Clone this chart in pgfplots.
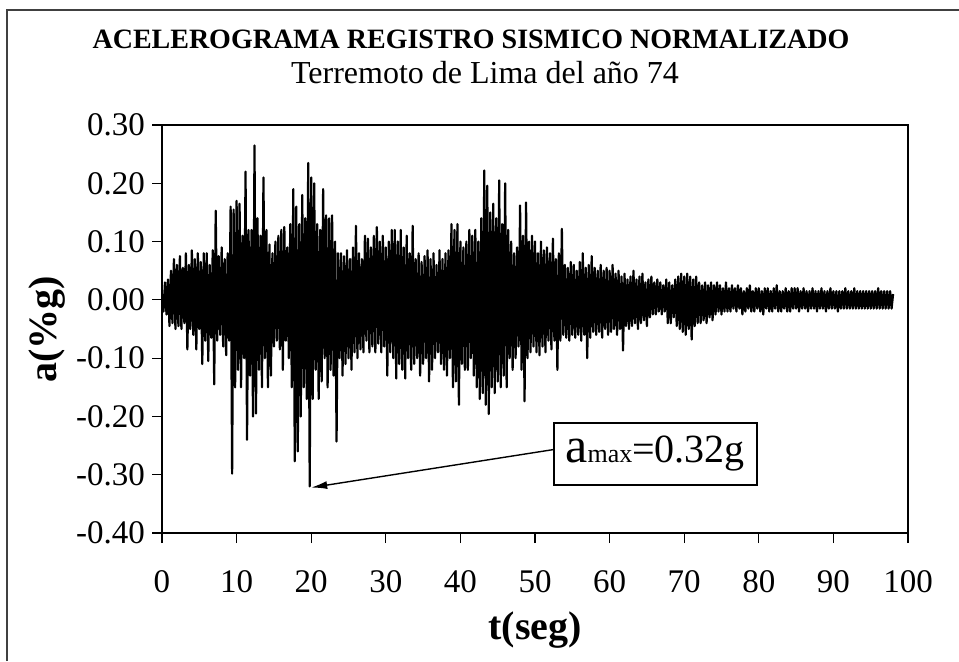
\documentclass[border=0pt]{standalone}
\usepackage{pgfplots}
\pgfplotsset{compat=1.18}
\usepackage{fontspec}
\setmainfont{Liberation Serif}
\usetikzlibrary{arrows.meta}
\begin{document}
\begin{tikzpicture}
\useasboundingbox (0,0) rectangle (479.5pt,330.5pt);
\draw[line width=0.7pt, black!75] (3.5pt,0pt) -- (3.5pt,325.5pt) -- (479.5pt,325.5pt);
\node[font=\fontsize{14}{14}\selectfont\bfseries] at (235.5pt,311pt) {ACELEROGRAMA REGISTRO SISMICO NORMALIZADO};
\node[font=\fontsize{16}{16}\selectfont] at (242.5pt,294pt) {Terremoto de Lima del año 74};
\begin{axis}[
  at={(81pt,64pt)}, anchor=south west,
  width=373pt, height=204pt, scale only axis,
  xmin=0, xmax=100, ymin=-0.4, ymax=0.3,
  xtick={0,10,20,30,40,50,60,70,80,90,100},
  ytick={-0.4,-0.3,-0.2,-0.1,0,0.1,0.2,0.3},
  tick align=outside, major tick length=5pt,
  tick style={line width=0.6pt, black},
  axis line style={line width=1pt},
  xtick pos=bottom, ytick pos=left,
  /pgf/number format/assume math mode=true,
  yticklabel style={/pgf/number format/fixed, /pgf/number format/fixed zerofill, /pgf/number format/precision=2, font=\fontsize{16.5}{16.5}\selectfont},
  xticklabel style={font=\fontsize{16.5}{16.5}\selectfont, yshift=-10pt},
  xlabel={t(seg)}, ylabel={a(\%g)},
  xlabel style={font=\fontsize{20}{20}\selectfont\bfseries, at={(axis description cs:0.5,-0.238)}, anchor=center},
  ylabel style={font=\fontsize{20}{20}\selectfont\bfseries, at={(axis description cs:-0.154,0.5)}, anchor=center},
]
\addplot[black, line width=1.1pt, line join=round] coordinates {
(0,0.01) (0.2,-0.02) (0.4,0.03) (0.6,-0.025) (0.8,0.035)
(1,-0.045) (1.2,0.05) (1.4,-0.04) (1.6,0.07) (1.8,-0.05)
(2,0.06) (2.2,-0.045) (2.4,0.075) (2.6,-0.05) (2.8,0.055)
(3,-0.04) (3.2,0.08) (3.4,-0.085) (3.6,0.06) (3.8,-0.05)
(4,0.085) (4.2,-0.06) (4.4,0.07) (4.6,-0.085) (4.8,0.08)
(5,-0.05) (5.2,0.065) (5.4,-0.11) (5.6,0.08) (5.8,-0.07)
(6,0.08) (6.2,-0.105) (6.4,0.06) (6.6,-0.065) (6.8,0.085)
(7,-0.145) (7.2,0.153) (7.4,-0.07) (7.6,0.075) (7.8,-0.06)
(8,0.09) (8.2,-0.08) (8.4,0.07) (8.6,-0.095) (8.8,0.08)
(9,-0.07) (9.2,0.16) (9.4,-0.298) (9.6,0.155) (9.8,-0.15)
(10,0.17) (10.2,-0.12) (10.4,0.165) (10.6,-0.15) (10.8,0.11)
(11,-0.1) (11.2,0.22) (11.4,-0.24) (11.6,0.12) (11.8,-0.13)
(12,0.12) (12.2,-0.2) (12.4,0.265) (12.6,-0.195) (12.8,0.14)
(13,-0.12) (13.2,0.11) (13.4,-0.15) (13.6,0.21) (13.8,-0.1)
(14,0.12) (14.2,-0.15) (14.4,0.095) (14.6,-0.13) (14.8,0.08)
(15,-0.08) (15.2,0.1) (15.4,-0.07) (15.6,0.11) (15.8,-0.085)
(16,0.12) (16.2,-0.12) (16.4,0.125) (16.6,-0.07) (16.8,0.09)
(17,-0.1) (17.2,0.13) (17.4,-0.15) (17.6,0.19) (17.8,-0.277)
(18,0.16) (18.2,-0.26) (18.4,0.13) (18.6,-0.2) (18.8,0.18)
(19,-0.15) (19.2,0.14) (19.4,-0.17) (19.6,0.235) (19.8,-0.32)
(20,0.21) (20.2,-0.17) (20.4,0.2) (20.6,-0.12) (20.8,0.13)
(21,-0.17) (21.2,0.12) (21.4,-0.14) (21.6,0.19) (21.8,-0.1)
(22,0.145) (22.2,-0.15) (22.4,0.14) (22.6,-0.12) (22.8,0.145)
(23,-0.13) (23.2,0.1) (23.4,-0.243) (23.6,0.08) (23.8,-0.1)
(24,0.08) (24.2,-0.13) (24.4,0.075) (24.6,-0.11) (24.8,0.085)
(25,-0.1) (25.2,0.07) (25.4,-0.12) (25.6,0.09) (25.8,-0.09)
(26,0.127) (26.2,-0.1) (26.4,0.08) (26.6,-0.085) (26.8,0.07)
(27,-0.09) (27.2,0.11) (27.4,-0.07) (27.6,0.105) (27.8,-0.09)
(28,0.09) (28.2,-0.08) (28.4,0.11) (28.6,-0.09) (28.8,0.125)
(29,-0.075) (29.2,0.1) (29.4,-0.09) (29.6,0.11) (29.8,-0.08)
(30,0.09) (30.2,-0.13) (30.4,0.1) (30.6,-0.09) (30.8,0.12)
(31,-0.1) (31.2,0.12) (31.4,-0.135) (31.6,0.1) (31.8,-0.11)
(32,0.12) (32.2,-0.12) (32.4,0.09) (32.6,-0.135) (32.8,0.11)
(33,-0.1) (33.2,0.08) (33.4,-0.12) (33.6,0.127) (33.8,-0.11)
(34,0.07) (34.2,-0.1) (34.4,0.08) (34.6,-0.13) (34.8,0.065)
(35,-0.11) (35.2,0.075) (35.4,-0.1) (35.6,0.085) (35.8,-0.14)
(36,0.07) (36.2,-0.12) (36.4,0.08) (36.6,-0.1) (36.8,0.06)
(37,-0.09) (37.2,0.085) (37.4,-0.11) (37.6,0.07) (37.8,-0.12)
(38,0.08) (38.2,-0.13) (38.4,0.085) (38.6,-0.1) (38.8,0.13)
(39,-0.15) (39.2,0.12) (39.4,-0.14) (39.6,0.13) (39.8,-0.18)
(40,0.1) (40.2,-0.11) (40.4,0.09) (40.6,-0.12) (40.8,0.1)
(41,-0.12) (41.2,0.12) (41.4,-0.1) (41.6,0.11) (41.8,-0.13)
(42,0.12) (42.2,-0.15) (42.4,0.1) (42.6,-0.17) (42.8,0.14)
(43,-0.16) (43.2,0.222) (43.4,-0.18) (43.6,0.196) (43.8,-0.196)
(44,0.15) (44.2,-0.15) (44.4,0.165) (44.6,-0.16) (44.8,0.14)
(45,-0.14) (45.2,0.205) (45.4,-0.15) (45.6,0.13) (45.8,-0.13)
(46,0.2) (46.2,-0.15) (46.4,0.12) (46.6,-0.1) (46.8,0.1)
(47,-0.12) (47.2,0.08) (47.4,-0.1) (47.6,0.09) (47.8,-0.08)
(48,0.162) (48.2,-0.12) (48.4,0.11) (48.6,-0.174) (48.8,0.167)
(49,-0.1) (49.2,0.1) (49.4,-0.09) (49.6,0.11) (49.8,-0.08)
(50,0.1) (50.2,-0.09) (50.4,0.08) (50.6,-0.095) (50.8,0.1)
(51,-0.08) (51.2,0.085) (51.4,-0.09) (51.6,0.09) (51.8,-0.07)
(52,0.08) (52.2,-0.085) (52.4,0.105) (52.6,-0.07) (52.8,0.07)
(53,-0.12) (53.2,0.08) (53.4,-0.07) (53.6,0.122) (53.8,-0.06)
(54,0.06) (54.2,-0.065) (54.4,0.055) (54.6,-0.07) (54.8,0.065)
(55,-0.06) (55.2,0.06) (55.4,-0.065) (55.6,0.05) (55.8,-0.06)
(56,0.065) (56.2,-0.07) (56.4,0.08) (56.6,-0.06) (56.8,0.055)
(57,-0.1) (57.2,0.06) (57.4,-0.065) (57.6,0.075) (57.8,-0.055)
(58,0.055) (58.2,-0.06) (58.4,0.05) (58.6,-0.055) (58.8,0.06)
(59,-0.065) (59.2,0.05) (59.4,-0.05) (59.6,0.055) (59.8,-0.06)
(60,0.05) (60.2,-0.055) (60.4,0.06) (60.6,-0.05) (60.8,0.045)
(61,-0.06) (61.2,0.05) (61.4,-0.05) (61.6,0.04) (61.8,-0.087)
(62,0.045) (62.2,-0.045) (62.4,0.035) (62.6,-0.05) (62.8,0.04)
(63,-0.045) (63.2,0.05) (63.4,-0.04) (63.6,0.035) (63.8,-0.05)
(64,0.04) (64.2,-0.04) (64.4,0.045) (64.6,-0.035) (64.8,0.03)
(65,-0.045) (65.2,0.035) (65.4,-0.03) (65.6,0.04) (65.8,-0.025)
(66,0.03) (66.2,-0.025) (66.4,0.035) (66.6,-0.02) (66.8,0.03)
(67,-0.025) (67.2,0.025) (67.4,-0.02) (67.6,0.035) (67.8,-0.04)
(68,0.03) (68.2,-0.04) (68.4,0.025) (68.6,-0.03) (68.8,0.035)
(69,-0.045) (69.2,0.04) (69.4,-0.05) (69.6,0.045) (69.8,-0.055)
(70,0.04) (70.2,-0.06) (70.4,0.045) (70.6,-0.05) (70.8,0.04)
(71,-0.068) (71.2,0.035) (71.4,-0.045) (71.6,0.04) (71.8,-0.04)
(72,0.03) (72.2,-0.04) (72.4,0.025) (72.6,-0.035) (72.8,0.03)
(73,-0.04) (73.2,0.025) (73.4,-0.03) (73.6,0.03) (73.8,-0.035)
(74,0.025) (74.2,-0.025) (74.4,0.03) (74.6,-0.02) (74.8,0.025)
(75,-0.025) (75.2,0.02) (75.4,-0.02) (75.6,0.03) (75.8,-0.02)
(76,0.02) (76.2,-0.02) (76.4,0.025) (76.6,-0.015) (76.8,0.02)
(77,-0.02) (77.2,0.025) (77.4,-0.015) (77.6,0.02) (77.8,-0.025)
(78,0.015) (78.2,-0.02) (78.4,0.02) (78.6,-0.015) (78.8,0.025)
(79,-0.02) (79.2,0.015) (79.4,-0.02) (79.6,0.02) (79.8,-0.015)
(80,0.02) (80.2,-0.02) (80.4,0.015) (80.6,-0.025) (80.8,0.02)
(81,-0.015) (81.2,0.02) (81.4,-0.02) (81.6,0.015) (81.8,-0.02)
(82,0.02) (82.2,-0.015) (82.4,0.025) (82.6,-0.02) (82.8,0.015)
(83,-0.02) (83.2,0.015) (83.4,-0.015) (83.6,0.02) (83.8,-0.02)
(84,0.015) (84.2,-0.02) (84.4,0.02) (84.6,-0.015) (84.8,0.02)
(85,-0.015) (85.2,0.02) (85.4,-0.02) (85.6,0.015) (85.8,-0.015)
(86,0.02) (86.2,-0.015) (86.4,0.015) (86.6,-0.02) (86.8,0.015)
(87,-0.015) (87.2,0.02) (87.4,-0.015) (87.6,0.015) (87.8,-0.02)
(88,0.015) (88.2,-0.015) (88.4,0.02) (88.6,-0.015) (88.8,0.015)
(89,-0.02) (89.2,0.015) (89.4,-0.015) (89.6,0.02) (89.8,-0.015)
(90,0.015) (90.2,-0.015) (90.4,0.015) (90.6,-0.02) (90.8,0.015)
(91,-0.015) (91.2,0.015) (91.4,-0.015) (91.6,0.02) (91.8,-0.015)
(92,0.015) (92.2,-0.015) (92.4,0.015) (92.6,-0.015) (92.8,0.02)
(93,-0.015) (93.2,0.015) (93.4,-0.015) (93.6,0.015) (93.8,-0.015)
(94,0.015) (94.2,-0.015) (94.4,0.015) (94.6,-0.015) (94.8,0.015)
(95,-0.015) (95.2,0.015) (95.4,-0.015) (95.6,0.015) (95.8,-0.015)
(96,0.02) (96.2,-0.015) (96.4,0.015) (96.6,-0.015) (96.8,0.015)
(97,-0.015) (97.2,0.015) (97.4,-0.015) (97.6,0.015) (97.8,-0.015)
(98,0.01)
};
\draw[line width=0.7pt, -{Latex[length=8pt,width=4pt]}] (axis cs:52.4,-0.257) -- (axis cs:20,-0.322);
\node[draw, line width=1pt, fill=white, inner sep=0pt, minimum width=101.5pt, minimum height=31pt] at (axis cs:66.1,-0.264) {\fontsize{25}{25}\selectfont a\fontsize{13}{13}\selectfont max\fontsize{20}{20}\selectfont =0.32g};
\end{axis}
\end{tikzpicture}
\end{document}
